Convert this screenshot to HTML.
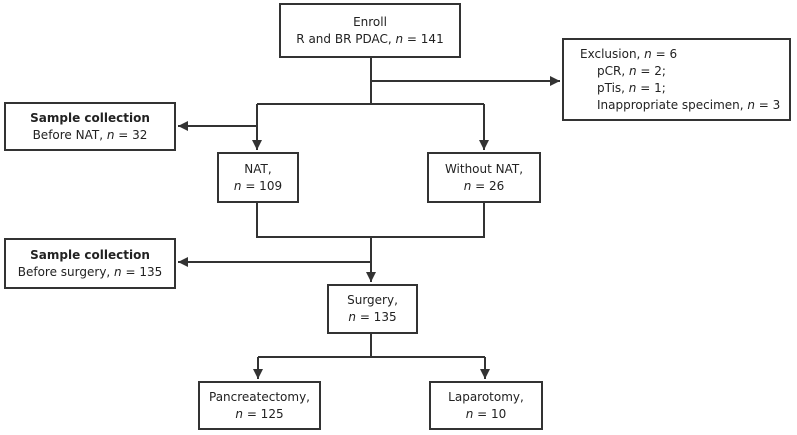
<!DOCTYPE html>
<html><head><meta charset="utf-8"><style>
body{margin:0;background:#fff;width:797px;height:435px;overflow:hidden;position:relative;font-family:"DejaVu Sans","Liberation Sans",sans-serif;font-size:12px;color:#222}
.b{position:absolute;border:2px solid #333;box-sizing:border-box;display:flex;flex-direction:column;justify-content:center;align-items:center;text-align:center;line-height:17px;background:#fff}
i{font-style:italic}
svg{position:absolute;left:0;top:0}
</style></head><body>
<svg width="797" height="435">
<defs><marker id="a" markerWidth="6" markerHeight="6" refX="5" refY="3" orient="auto"><path d="M0,0.5 L5,3 L0,5.5z" fill="#333"/></marker></defs>
<g stroke="#333" stroke-width="2" fill="none">
<path d="M371 57 V104"/>
<path d="M371 81 H560" marker-end="url(#a)"/>
<path d="M257 104 H484"/>
<path d="M257 104 V150" marker-end="url(#a)"/>
<path d="M484 104 V150" marker-end="url(#a)"/>
<path d="M257 126 H178" marker-end="url(#a)"/>
<path d="M257 202 V237 H484 V202"/>
<path d="M371 237 V282" marker-end="url(#a)"/>
<path d="M371 262 H178" marker-end="url(#a)"/>
<path d="M371 333 V357"/>
<path d="M258 357 H485"/>
<path d="M258 357 V379" marker-end="url(#a)"/>
<path d="M485 357 V379" marker-end="url(#a)"/>
</g></svg>
<div class="b" style="left:279px;top:3px;width:182px;height:55px">Enroll<span>R and BR PDAC, <i>n</i> = 141</span></div>
<div class="b" style="left:562px;top:38px;width:229px;height:83px;align-items:flex-start;padding-left:16px;text-align:left"><span>Exclusion, <i>n</i> = 6</span><span style="padding-left:17px">pCR, <i>n</i> = 2;</span><span style="padding-left:17px">pTis, <i>n</i> = 1;</span><span style="padding-left:17px">Inappropriate specimen, <i>n</i> = 3</span></div>
<div class="b" style="left:4px;top:102px;width:172px;height:49px"><b>Sample collection</b><span>Before NAT, <i>n</i> = 32</span></div>
<div class="b" style="left:217px;top:152px;width:82px;height:51px">NAT,<span><i>n</i> = 109</span></div>
<div class="b" style="left:427px;top:152px;width:114px;height:51px">Without NAT,<span><i>n</i> = 26</span></div>
<div class="b" style="left:4px;top:238px;width:172px;height:51px"><b>Sample collection</b><span>Before surgery, <i>n</i> = 135</span></div>
<div class="b" style="left:327px;top:284px;width:91px;height:50px">Surgery,<span><i>n</i> = 135</span></div>
<div class="b" style="left:198px;top:381px;width:123px;height:49px">Pancreatectomy,<span><i>n</i> = 125</span></div>
<div class="b" style="left:429px;top:381px;width:114px;height:49px">Laparotomy,<span><i>n</i> = 10</span></div>
</body></html>
